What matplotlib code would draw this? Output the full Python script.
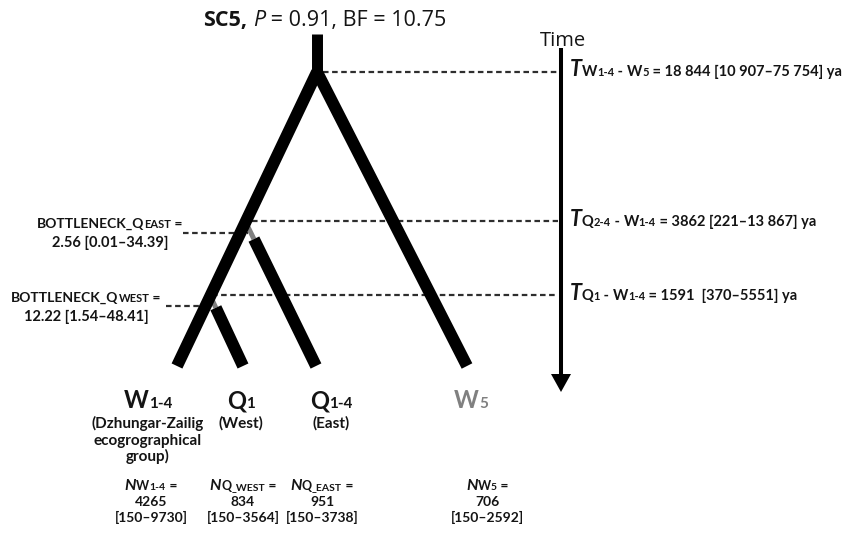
import matplotlib
matplotlib.use("Agg")
import matplotlib.pyplot as plt
from matplotlib.patches import Polygon
import numpy as np

# ---- divergence times (years ago): median and 95% HPD ----
split_names = [("W", "1-4", "W", "5"), ("Q", "2-4", "W", "1-4"), ("Q", "1", "W", "1-4")]
split_median = [18844, 3862, 1591]
split_low = [10907, 221, 370]
split_high = [75754, 13867, 5551]

# ---- bottleneck intensities ----
bneck_names = ["EAST", "WEST"]
bneck_median = [2.56, 12.22]
bneck_low = [0.01, 1.54]
bneck_high = [34.39, 48.41]

# ---- effective population sizes of the four tips ----
pop_main = ["W", "Q", "Q", "W"]
pop_sub = ["1-4", "1", "1-4", "5"]
pop_note = [["(Dzhungar-Zailig", "ecogrographical", "group)"], ["(West)"], ["(East)"], []]
n_label = [("W", "1-4"), ("Q", "_WEST"), ("Q", "_EAST"), ("W", "5")]
n_median = [4265, 834, 951, 706]
n_low = [150, 150, 150, 150]
n_high = [9730, 3564, 3738, 2592]

FONT = ["Lato", "DejaVu Sans"]
TITLE_FONT = ["Open Sans", "DejaVu Sans"]
INK = "#141414"
GREY = "#808080"


def fmt(v):
    # five-digit numbers get a space as thousands separator
    return f"{v:,}".replace(",", " ") if v >= 10000 else str(v)


fig = plt.figure(figsize=(8.42, 5.45), dpi=100)
ax = fig.add_axes([0, 0, 1, 1])
ax.set_xlim(0, 842)
ax.set_ylim(545, 0)
ax.axis("off")
renderer = fig.canvas.get_renderer()


def text_width(s, **kw):
    a = ax.text(0, 0, "|" + s + "|", **kw)
    b = ax.text(0, 0, "||", **kw)
    w = a.get_window_extent(renderer).width - b.get_window_extent(renderer).width
    a.remove()
    b.remove()
    return w


def rich(x, y, parts, ha="center", family=FONT):
    # parts: (text, size, weight, style, colour); drawn side by side on one baseline
    items = []
    for s, size, weight, style, color in parts:
        kw = dict(fontsize=size, fontweight=weight, fontstyle=style, family=family)
        items.append((s, text_width(s, **kw), kw, color))
    total = sum(w for _, w, _, _ in items)
    x0 = x - total / 2 if ha == "center" else x
    for s, w, kw, color in items:
        ax.text(x0, y, s, color=color, ha="left", va="baseline", **kw)
        x0 += w


# ---- tree layout (pixel units) ----
root = (317, 72)
y_east, y_west = 222, 296
y_tip = 366
tip_x = [177, 243, 316, 467]
lw_branch = 8.6
lw_neck = 3.6


def on_left(y):
    return root[0] + (tip_x[0] - root[0]) * (y - root[1]) / (y_tip - root[1])


east_node = (on_left(y_east), y_east)
west_node = (on_left(y_west), y_west)

# time guide lines
axis_x = 561
dash = dict(color="#2e2e2e", lw=1.6, dashes=(2.5, 1.6), zorder=1)
ax.plot([root[0] + 6, axis_x - 3], [root[1], root[1]], **dash)
ax.plot([east_node[0] + 6, axis_x - 3], [y_east - 1, y_east - 1], **dash)
ax.plot([west_node[0] + 2, axis_x - 3], [y_west - 1, y_west - 1], **dash)
# bottleneck guide lines
ax.plot([183, east_node[0] + 2], [y_east + 11, y_east + 11], **dash)
ax.plot([166, west_node[0] - 2], [y_west + 10, y_west + 10], **dash)

branch = dict(color="black", lw=lw_branch, solid_capstyle="butt", zorder=3)
# root stem
ax.plot([root[0], root[0]], [34, root[1] + 4], color="black", lw=7.9,
        solid_capstyle="butt", zorder=3)
# deep split: W1-4 lineage and W5
ax.plot([root[0], tip_x[0]], [root[1], y_tip], **branch)
ax.plot([root[0], tip_x[3]], [root[1], y_tip], **branch)


def daughter(node, tx, neck_len):
    d = np.array([tx - node[0], y_tip - node[1]])
    u = d / np.hypot(*d)
    start = np.array(node) + u * neck_len
    ax.plot([node[0], start[0]], [node[1], start[1]], color=GREY, lw=lw_neck,
            solid_capstyle="butt", zorder=2)
    ax.plot([start[0], tx], [start[1], y_tip], **branch)


daughter(east_node, tip_x[2], 19)
daughter(west_node, tip_x[1], 13)

# time arrow
ax.plot([axis_x, axis_x], [48, 378], color="black", lw=2.9, solid_capstyle="butt")
ax.add_patch(Polygon([[axis_x - 10, 374], [axis_x + 10, 374], [axis_x, 392]],
                     closed=True, color="black", lw=0))
rich(563, 46, [("Time", 14.5, "normal", "normal", INK)], family=TITLE_FONT)

# title
rich(325, 26, [("SC5,", 15.5, "bold", "normal", INK),
               (" ", 15.5, "normal", "normal", INK),
               ("P", 15.5, "normal", "italic", INK),
               (" = 0.91, BF = 10.75", 15.5, "normal", "normal", INK)],
     family=TITLE_FONT)

# divergence time labels
for (a, asub, b, bsub), yy, m, lo, hi in zip(split_names, [root[1], y_east, y_west],
                                            split_median, split_low, split_high):
    gap = "  " if m < 2000 else " "
    rich(570, yy + 4, [("T", 15.5, "bold", "italic", INK),
                       (a, 10.5, "bold", "normal", INK),
                       (asub, 8, "bold", "normal", INK),
                       (" - ", 10.5, "bold", "normal", INK),
                       (b, 10.5, "bold", "normal", INK),
                       (bsub, 8, "bold", "normal", INK),
                       (f" = {fmt(m)}{gap}[{fmt(lo)}\u2013{fmt(hi)}] ya", 10.5, "bold", "normal", INK)],
         ha="left")

# bottleneck labels
for name, yy, cx, m, lo, hi in zip(bneck_names, [y_east, y_west], [110, 86],
                                   bneck_median, bneck_low, bneck_high):
    rich(cx, yy + 6, [("BOTTLENECK_Q", 10, "bold", "normal", INK),
                      (name, 8, "bold", "normal", INK),
                      (" =", 10, "bold", "normal", INK)])
    rich(cx, yy + 25, [(f"{m:.2f} [{lo:.2f}\u2013{hi:.2f}]", 10.5, "bold", "normal", INK)])

# tip labels
name_x = [148, 241, 331, 471]
n_x = [151, 243, 322, 487]
for i in range(4):
    col = GREY if i == 3 else INK
    rich(name_x[i], 408, [(pop_main[i], 17, "bold", "normal", col),
                          (pop_sub[i], 11, "bold", "normal", col)])
    for k, line in enumerate(pop_note[i]):
        rich(name_x[i], 428 + 16.5 * k, [(line, 11, "bold", "normal", INK)])
    big, small = n_label[i]
    rich(n_x[i], 490, [("N", 11.5, "bold", "italic", INK),
                       (big, 9, "bold", "normal", INK),
                       (small, 7.5, "bold", "normal", INK),
                       (" =", 10, "bold", "normal", INK)])
    rich(n_x[i], 506, [(str(n_median[i]), 10, "bold", "normal", INK)])
    rich(n_x[i], 522, [(f"[{n_low[i]}\u2013{n_high[i]}]", 10, "bold", "normal", INK)])

fig.savefig("out.png", dpi=100)
